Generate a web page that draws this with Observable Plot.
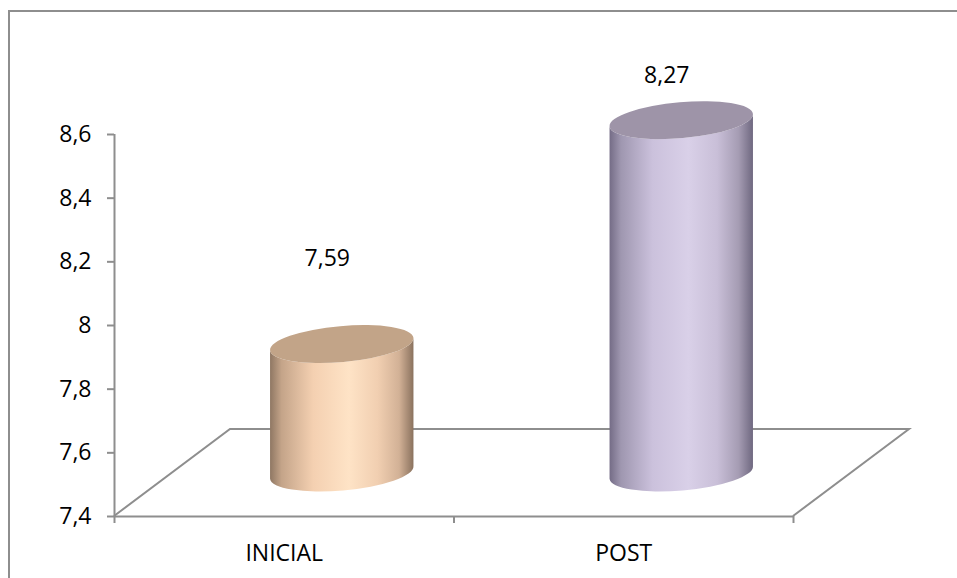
<!DOCTYPE html>
<html>
<head>
<meta charset="utf-8">
<script src="https://cdn.jsdelivr.net/npm/d3@7"></script>
<script src="https://cdn.jsdelivr.net/npm/@observablehq/plot@0.6"></script>
<style>
  html, body { margin: 0; padding: 0; background: #fff; }
  #chart { position: relative; width: 957px; height: 578px; overflow: hidden; font-family: 'Open Sans', sans-serif; }
  #chart svg { position: absolute; left: 0; top: 0; }
  #border { position: absolute; left: 8px; top: 10px; width: 2000px; height: 2000px;
            border-left: 2px solid #8e8e8e; border-top: 2px solid #8e8e8e; }
</style>
</head>
<body>
<div id="chart"><div id="border"></div></div>
<script>
// ---- data ----
const categories = ["INICIAL", "POST"];
const scores = [7.59, 8.27];
const yTicks = [7.4, 7.6, 7.8, 8, 8.2, 8.4, 8.6];
const yDomain = [7.4, 8.6];
const cylinderFloor = 7.2;          // level at which the 3D cylinders start (as drawn)

// ---- styles ----
const AXIS_GRAY = "#8e8e8e";
const FONT_SIZE = 23;
const DEPTH_DX = 116, DEPTH_DY = -87;   // 3D floor depth offset (px)
const BAR_FRAC = 0.212;                 // cylinder half-width as fraction of category band
const TILT = -5, RY = 18;               // ellipse tilt (deg) and minor radius
const sideStops = [
  [[0, "#8f7763"], [0.08, "#c4a489"], [0.3, "#f4d0b1"], [0.55, "#fee3c6"], [0.75, "#f1cfb1"], [0.9, "#d2b196"], [1, "#8a725e"]],
  [[0, "#746c86"], [0.08, "#9f97b0"], [0.3, "#cbc1dc"], [0.55, "#d9d0e8"], [0.75, "#c9bfd8"], [0.9, "#a59cb3"], [1, "#6f6880"]]
];
const topFills = ["#c2a488", "#9e94a8"];

const fmt = d => String(d).replace(".", ",");
const W = 957, H = 578;
const common = {
  width: W, height: H,
  marginLeft: 114, marginRight: 164, marginBottom: 62,
  style: { background: "transparent", overflow: "visible", fontFamily: "'Open Sans', sans-serif", fontSize: FONT_SIZE + "px", color: "black" }
};
const xIdx = categories.map((c, i) => i);

// ---- Plot A: axes & floor ----
const plotA = Plot.plot({
  ...common,
  marginTop: 134,
  x: { domain: [0, categories.length], axis: null },
  y: { domain: yDomain, axis: null },
  marks: [
    (index, scales) => {
      const { x, y } = scales;
      const x0 = x(0), x1 = x(categories.length), y0 = y(yDomain[0]);
      const p = document.createElementNS("http://www.w3.org/2000/svg", "path");
      p.setAttribute("d", `M${x0},${y0}L${x0 + DEPTH_DX},${y0 + DEPTH_DY}L${x1 + DEPTH_DX},${y0 + DEPTH_DY}L${x1},${y0}`);
      p.setAttribute("fill", "none");
      p.setAttribute("stroke", AXIS_GRAY);
      p.setAttribute("stroke-width", 2);
      return p;
    },
    Plot.ruleY([yDomain[0]], { stroke: AXIS_GRAY, strokeWidth: 2 }),
    Plot.ruleX([0], { stroke: AXIS_GRAY, strokeWidth: 2 }),
    Plot.axisY({ ticks: yTicks, tickFormat: fmt, tickSize: 7, tickPadding: 16, stroke: AXIS_GRAY, strokeWidth: 2, fill: "black", fontSize: FONT_SIZE, label: null }),
    Plot.axisX({ ticks: d3.range(categories.length + 1), tickFormat: () => "", tickSize: 7, stroke: AXIS_GRAY, strokeWidth: 2, label: null }),
    Plot.axisX({ ticks: xIdx.map(i => i + 0.5), tickFormat: d => categories[Math.floor(d)], tickSize: 0, tickPadding: 28, fill: "black", fontSize: FONT_SIZE, label: null })
  ]
});

// ---- Plot B: cylinders ----
const plotB = Plot.plot({
  ...common,
  marginTop: 55,
  x: { domain: [0, categories.length], axis: null },
  y: { domain: [cylinderFloor, yDomain[1]], axis: null },
  marks: [
    (index, scales) => {
      const ns = "http://www.w3.org/2000/svg";
      const { x, y } = scales;
      const g = document.createElementNS(ns, "g");
      const defs = document.createElementNS(ns, "defs");
      g.appendChild(defs);
      const t = TILT * Math.PI / 180;
      scores.forEach((v, i) => {
        const a = BAR_FRAC * (x(1) - x(0));
        const cx = x(i + 0.5) + DEPTH_DX / 2;
        const yb = y(cylinderFloor) + DEPTH_DY / 2;
        const yt = y(v) + DEPTH_DY / 2;
        const ex = a * Math.cos(t), ey = a * Math.sin(t);
        const gid = "side" + i;
        const lg = document.createElementNS(ns, "linearGradient");
        lg.setAttribute("id", gid);
        lg.setAttribute("x1", "0"); lg.setAttribute("x2", "1");
        lg.setAttribute("y1", "0"); lg.setAttribute("y2", "0");
        sideStops[i].forEach(([o, c]) => {
          const s = document.createElementNS(ns, "stop");
          s.setAttribute("offset", o);
          s.setAttribute("stop-color", c);
          lg.appendChild(s);
        });
        defs.appendChild(lg);
        const deg = TILT;
        const body = document.createElementNS(ns, "path");
        body.setAttribute("d",
          `M${cx - ex},${yt - ey}L${cx - ex},${yb - ey}` +
          `A${a},${RY} ${deg} 0 0 ${cx + ex},${yb + ey}` +
          `L${cx + ex},${yt + ey}` +
          `A${a},${RY} ${deg} 0 1 ${cx - ex},${yt - ey}Z`);
        body.setAttribute("fill", `url(#${gid})`);
        g.appendChild(body);
        const top = document.createElementNS(ns, "ellipse");
        top.setAttribute("cx", cx); top.setAttribute("cy", yt);
        top.setAttribute("rx", a); top.setAttribute("ry", RY);
        top.setAttribute("transform", `rotate(${deg} ${cx} ${yt})`);
        top.setAttribute("fill", topFills[i]);
        g.appendChild(top);
      });
      return g;
    }
  ]
});

// ---- Plot C: value labels ----
const plotC = Plot.plot({
  ...common,
  x: { domain: [0, categories.length], axis: null },
  y: { domain: yDomain, range: [309, -14], axis: null },
  marks: [
    Plot.text(scores, { x: (d, i) => i + 0.5, y: d => d, text: d => fmt(d), dx: 43, fontSize: FONT_SIZE, fill: "black" })
  ]
});

const chart = document.getElementById("chart");
chart.appendChild(plotA);
chart.appendChild(plotB);
chart.appendChild(plotC);
</script>
</body>
</html>
